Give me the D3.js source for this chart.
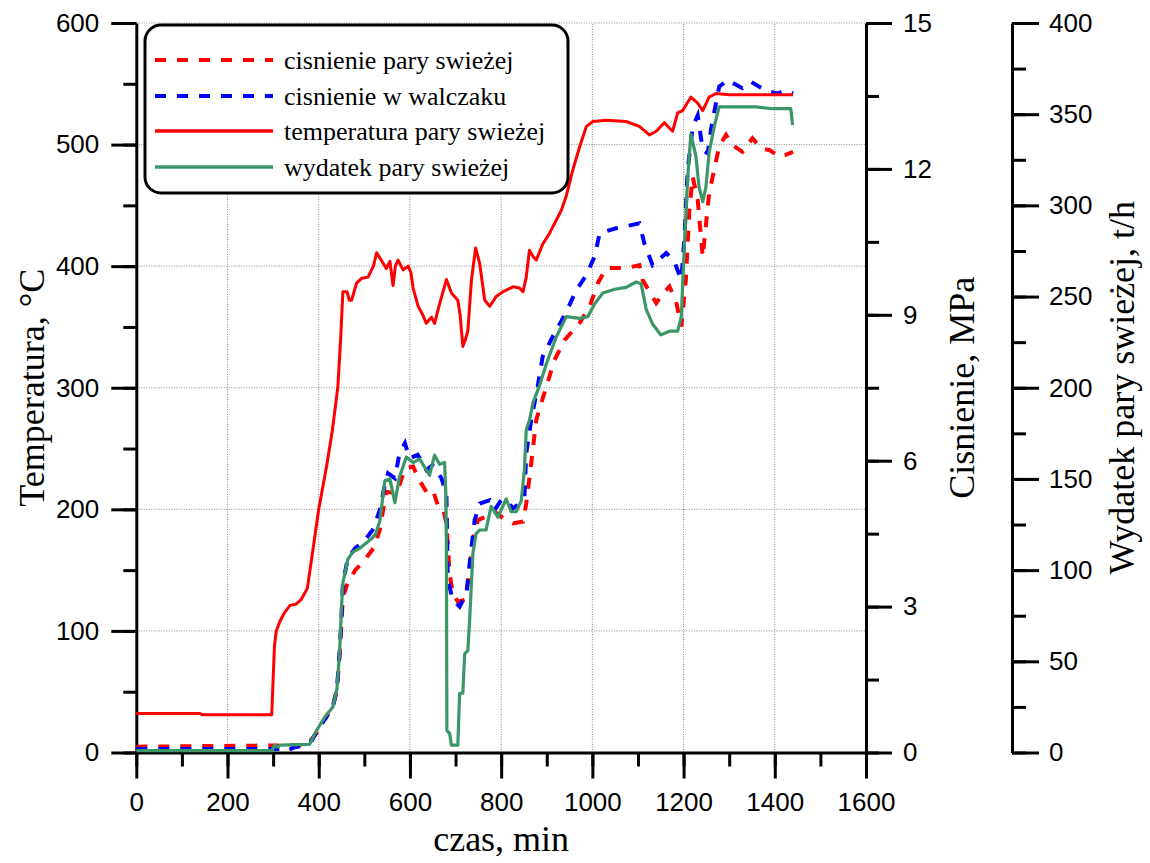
<!DOCTYPE html>
<html><head><meta charset="utf-8">
<script src="https://cdn.jsdelivr.net/npm/d3@7"></script>
<style>
body{margin:0;background:#fff;}
svg{display:block;}
.tick text{font-family:"Liberation Sans",Arial,sans-serif;font-size:26px;fill:#000;}
.title{font-family:"Liberation Serif","Times New Roman",serif;font-size:36px;fill:#000;}
.leg{font-family:"Liberation Serif","Times New Roman",serif;font-size:26px;fill:#000;}
</style></head>
<body>
<svg id="c" width="1150" height="863"></svg>
<script>
// ---- data ----
const xTicks = [0,200,400,600,800,1000,1200,1400,1600];
const tTicks = [0,100,200,300,400,500,600];
const pTicks = [0,3,6,9,12,15];
const fTicks = [0,50,100,150,200,250,300,350,400];

const legendNames = ["cisnienie pary swieżej","cisnienie w walczaku","temperatura pary swieżej","wydatek pary swieżej"];

// temperatura pary swiezej [min, °C]
const tempData = [[0,32],[140,32],[145,31],[297,31],[300,60],[303,88],[307,100],[315,108],[325,115],[337,121],[350,122],[362,126],[375,135],[387,166],[400,200],[417,235],[430,265],[442,301],[448,340],[453,379],[462,379],[467,372],[472,372],[483,386],[494,390],[508,391],[520,400],[527,411],[537,405],[548,398],[556,404],[563,384],[568,400],[574,405],[585,397],[596,400],[602,395],[607,382],[618,367],[628,360],[636,353],[647,358],[654,353],[665,369],[680,389],[691,378],[705,372],[710,360],[716,334],[722,340],[727,347],[735,389],[744,415],[753,402],[764,372],[775,367],[789,375],[804,379],[826,383],[840,382],[848,379],[855,391],[862,413],[870,408],[877,405],[891,418],[906,427],[921,438],[932,446],[943,458],[957,479],[972,498],[987,515],[1001,519],[1030,520],[1074,519],[1103,515],[1125,508],[1140,511],[1158,518],[1168,514],[1176,511],[1187,526],[1198,528],[1216,539],[1231,534],[1242,528],[1256,539],[1271,542],[1300,541],[1350,541],[1400,541],[1440,541]];

// cisnienie pary swiezej [min, MPa]
const pSteam = [[0,0.12],[370,0.15],[380,0.22],[395,0.4],[410,0.65],[431,0.94],[440,1.3],[446,2.0],[453,3.2],[464,3.5],[480,3.75],[500,3.95],[520,4.2],[534,4.58],[548,5.36],[571,5.33],[589,5.84],[607,5.88],[618,5.64],[636,5.36],[650,5.4],[661,5.09],[672,5.05],[680,4.71],[687,3.68],[694,3.27],[705,3.1],[720,3.14],[727,3.48],[738,4.37],[749,4.78],[767,4.85],[786,4.95],[804,4.82],[826,4.71],[848,4.75],[855,5.12],[866,5.95],[877,6.84],[899,7.52],[917,8.07],[939,8.48],[972,8.83],[994,9.17],[1012,9.65],[1030,9.96],[1074,9.96],[1103,10.02],[1110,9.72],[1140,9.24],[1155,9.44],[1169,9.58],[1183,9.3],[1195,8.76],[1205,9.72],[1213,11.2],[1220,11.84],[1231,11.36],[1242,10.19],[1256,11.5],[1267,11.98],[1278,12.46],[1293,12.7],[1307,12.49],[1329,12.35],[1351,12.63],[1370,12.42],[1388,12.39],[1410,12.25],[1424,12.29],[1440,12.35]];

// cisnienie w walczaku [min, MPa]
const pDrum = [[0,0.07],[320,0.07],[329,0.03],[345,0.1],[370,0.15],[385,0.25],[400,0.5],[415,0.7],[431,0.95],[440,1.3],[446,2.1],[450,2.8],[453,3.48],[464,4.0],[480,4.2],[500,4.35],[520,4.6],[534,4.99],[545,5.5],[552,5.74],[567,5.64],[577,6.15],[589,6.36],[599,6.05],[617,6.12],[636,5.81],[650,5.91],[669,5.64],[680,5.33],[683,3.55],[694,3.14],[709,3.0],[724,3.27],[731,3.89],[742,4.78],[753,5.12],[775,5.19],[786,4.99],[800,5.19],[811,5.19],[826,5.02],[840,5.12],[851,5.26],[855,6.15],[866,6.84],[880,7.52],[891,8.14],[913,8.55],[943,9.06],[965,9.51],[987,9.82],[1005,10.2],[1016,10.68],[1052,10.78],[1103,10.88],[1114,10.47],[1132,10.02],[1162,10.27],[1180,10.09],[1195,9.72],[1202,10.6],[1209,11.98],[1220,12.87],[1231,13.1],[1242,12.39],[1253,12.32],[1260,12.8],[1271,13.35],[1278,13.69],[1297,13.83],[1315,13.73],[1329,13.66],[1348,13.79],[1366,13.69],[1388,13.59],[1406,13.55],[1424,13.62],[1440,13.55]];

// wydatek pary swiezej [min, t/h]
const flow = [[0,1],[298,1],[303,4],[310,3],[315,4],[380,4.5],[395,12],[415,20],[431,25],[440,35],[446,56],[450,80],[453,93],[464,106],[475,110],[490,112],[505,115],[515,117],[525,120],[534,127],[545,149],[556,150],[567,137],[577,151],[592,162],[607,159],[621,161],[643,152],[654,163],[665,158],[676,159],[679,140],[680,109],[681,12],[687,10.5],[691,4],[705,4],[709,32.5],[716,32.5],[720,54],[727,56],[731,73],[738,109],[745,120],[753,122],[767,122],[778,135],[793,129],[811,139],[822,132],[833,132],[844,138],[851,155],[855,177],[862,182],[870,192],[884,201],[899,213],[921,228],[943,239],[972,238],[990,239],[1005,246],[1023,252],[1049,254],[1074,255],[1096,258],[1107,257],[1118,243],[1132,235],[1150,229],[1169,231],[1187,231],[1195,239],[1202,280],[1209,315],[1216,339],[1227,327],[1234,310],[1242,302],[1249,310],[1256,329],[1267,343],[1278,354],[1322,354],[1359,354],[1395,353],[1435,353],[1439,344]];

// ---- drawing ----
const svg = d3.select("#c");
const X0 = 136.3, X1 = 866, Y0 = 752.5, Y1 = 23;
const x = d3.scaleLinear().domain([0,1600]).range([X0,X1]);
const yT = d3.scaleLinear().domain([0,600]).range([Y0,Y1]);
const yP = d3.scaleLinear().domain([0,15]).range([Y0,Y1]);
const yF = d3.scaleLinear().domain([0,400]).range([Y0,Y1]);

// grid
const grid = svg.append("g").attr("stroke","#8a8a8a").attr("stroke-width",1).attr("stroke-dasharray","1,1.5");
xTicks.filter(v=>v>0 && v<1600).forEach(v=>grid.append("line").attr("x1",x(v)).attr("x2",x(v)).attr("y1",Y0).attr("y2",Y1));
tTicks.filter(v=>v>0).forEach(v=>grid.append("line").attr("x1",X0).attr("x2",X1).attr("y1",yT(v)).attr("y2",yT(v)));

function styleAxis(g){
  g.selectAll("path,line").attr("stroke","#000").attr("stroke-width",3);
}
function minor(a,b,s){const r=[];for(let v=a;v<=b+1e-9;v+=s)r.push(+v.toFixed(3));return r;}

// x axis
svg.append("g").attr("transform",`translate(0,${Y0})`)
  .call(d3.axisBottom(x).tickValues(minor(0,1600,100)).tickSize(14).tickSizeOuter(0).tickFormat(""))
  .call(styleAxis);
svg.append("g").attr("transform",`translate(0,${Y0})`)
  .call(d3.axisBottom(x).tickValues(xTicks).tickSize(26).tickPadding(14).tickSizeOuter(0).tickFormat(d3.format("d")))
  .call(styleAxis).call(g=>g.select(".domain").remove());

// left axis
svg.append("g").attr("transform",`translate(${X0},0)`)
  .call(d3.axisLeft(yT).tickValues(minor(0,600,50)).tickSize(13).tickSizeOuter(0).tickFormat(""))
  .call(styleAxis);
svg.append("g").attr("transform",`translate(${X0},0)`)
  .call(d3.axisLeft(yT).tickValues(tTicks).tickSize(25).tickPadding(12).tickSizeOuter(0))
  .call(styleAxis).call(g=>g.select(".domain").remove());

// pressure axis
svg.append("g").attr("transform",`translate(${X1},0)`)
  .call(d3.axisRight(yP).tickValues(minor(0,15,1.5)).tickSize(13).tickSizeOuter(0).tickFormat(""))
  .call(styleAxis);
svg.append("g").attr("transform",`translate(${X1},0)`)
  .call(d3.axisRight(yP).tickValues(pTicks).tickSize(26).tickPadding(11).tickSizeOuter(0))
  .call(styleAxis).call(g=>g.select(".domain").remove());

// flow axis
const XF = 1012;
svg.append("g").attr("transform",`translate(${XF},0)`)
  .call(d3.axisRight(yF).tickValues(minor(0,400,25)).tickSize(14).tickSizeOuter(0).tickFormat(""))
  .call(styleAxis);
svg.append("g").attr("transform",`translate(${XF},0)`)
  .call(d3.axisRight(yF).tickValues(fTicks).tickSize(27).tickPadding(10).tickSizeOuter(0))
  .call(styleAxis).call(g=>g.select(".domain").remove());

// lines
const red="#ff0000", blue="#0000ff", green="#3b9668";
const lineP = d3.line().x(d=>x(d[0])).y(d=>yP(d[1]));
const lineT = d3.line().x(d=>x(d[0])).y(d=>yT(d[1]));
const lineF = d3.line().x(d=>x(d[0])).y(d=>yF(d[1]));
svg.append("path").datum(pSteam).attr("d",lineP).attr("fill","none").attr("stroke",red).attr("stroke-width",4).attr("stroke-dasharray","11,11");
svg.append("path").datum(pDrum).attr("d",lineP).attr("fill","none").attr("stroke",blue).attr("stroke-width",4).attr("stroke-dasharray","11,11");
svg.append("path").datum(tempData).attr("d",lineT).attr("fill","none").attr("stroke",red).attr("stroke-width",3).attr("stroke-linejoin","round");
svg.append("path").datum(flow).attr("d",lineF).attr("fill","none").attr("stroke",green).attr("stroke-width",3.2).attr("stroke-linejoin","round");

// legend
const lg = svg.append("g");
lg.append("rect").attr("x",145).attr("y",25).attr("width",423).attr("height",168).attr("rx",16)
  .attr("fill","#fff").attr("stroke","#000").attr("stroke-width",3);
const legStyles = [[red,"11,11",4],[blue,"11,11",4],[red,null,3.5],[green,null,3.5]];
const rowY = [60,96,131,167];
legendNames.forEach((n,i)=>{
  const l = lg.append("line").attr("x1",155).attr("x2",273).attr("y1",rowY[i]).attr("y2",rowY[i])
    .attr("stroke",legStyles[i][0]).attr("stroke-width",legStyles[i][2]);
  if(legStyles[i][1]) l.attr("stroke-dasharray",legStyles[i][1]);
  lg.append("text").attr("class","leg").attr("x",284).attr("y",rowY[i]).attr("dy","0.33em").text(n);
});

// titles
svg.append("text").attr("class","title").attr("x",(X0+X1)/2).attr("y",851).attr("text-anchor","middle").text("czas, min");
svg.append("text").attr("class","title").attr("transform",`translate(44,${(Y0+Y1)/2}) rotate(-90)`).attr("text-anchor","middle").text("Temperatura, °C");
svg.append("text").attr("class","title").attr("transform",`translate(974,${(Y0+Y1)/2}) rotate(-90)`).attr("text-anchor","middle").text("Cisnienie, MPa");
svg.append("text").attr("class","title").attr("transform",`translate(1134,${(Y0+Y1)/2}) rotate(-90)`).attr("text-anchor","middle").text("Wydatek pary swieżej, t/h");
</script>
</body></html>
